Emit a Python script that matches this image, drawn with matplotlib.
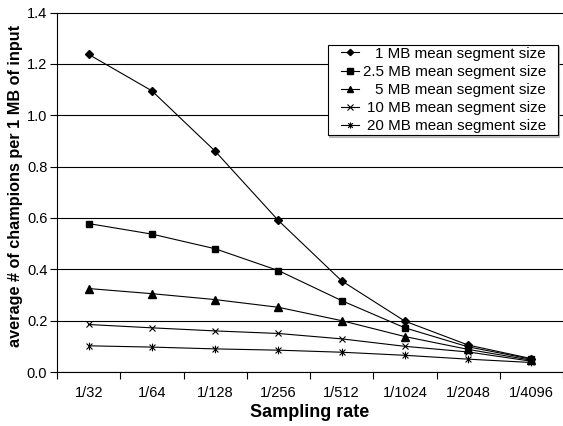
import numpy as np
import matplotlib
matplotlib.use("Agg")
import matplotlib.pyplot as plt
import matplotlib.transforms as mtransforms
from matplotlib.path import Path
from matplotlib.lines import Line2D
from matplotlib.legend_handler import HandlerLine2D

plt.rcParams['font.family'] = ['Liberation Sans', 'DejaVu Sans']

# data
rates = ['1/32', '1/64', '1/128', '1/256', '1/512', '1/1024', '1/2048', '1/4096']
seg_1mb = [1.237, 1.095, 0.860, 0.590, 0.355, 0.198, 0.105, 0.052]
seg_2_5mb = [0.578, 0.537, 0.480, 0.395, 0.278, 0.172, 0.098, 0.050]
seg_5mb = [0.325, 0.305, 0.282, 0.252, 0.200, 0.138, 0.088, 0.046]
seg_10mb = [0.185, 0.172, 0.160, 0.150, 0.129, 0.100, 0.078, 0.042]
seg_20mb = [0.102, 0.097, 0.090, 0.085, 0.077, 0.065, 0.050, 0.037]
labels = ['1 MB mean segment size', '2.5 MB mean segment size',
          '5 MB mean segment size', '10 MB mean segment size',
          '20 MB mean segment size']

# excel-like star: an x with a vertical bar
star = Path([(-1, -1), (1, 1), (-1, 1), (1, -1), (0, -1.3), (0, 1.3)],
            [Path.MOVETO, Path.LINETO, Path.MOVETO, Path.LINETO, Path.MOVETO, Path.LINETO])

PX = 0.72  # points per pixel at dpi 100


class PadHandler(HandlerLine2D):
    # leaves some blank room in front of the legend sample line
    def __init__(self, pad, **kw):
        super().__init__(**kw)
        self.pad = pad

    def create_artists(self, legend, orig_handle, xdescent, ydescent, width, height, fontsize, trans):
        return super().create_artists(legend, orig_handle, xdescent - self.pad, ydescent,
                                      width - self.pad, height, fontsize, trans)


fig = plt.figure(figsize=(5.63, 4.26), dpi=100)
ax = fig.add_axes([57 / 563, 54 / 426, 1 - 57 / 563, (372 - 12.5) / 426])

x = np.arange(len(rates))
series = [seg_1mb, seg_2_5mb, seg_5mb, seg_10mb, seg_20mb]
styles = [dict(marker='D', ms=4),
          dict(marker='s', ms=5),
          dict(marker='^', ms=5.5),
          dict(marker='x', ms=5, mew=0.8),
          dict(marker=star, ms=5.5, mew=0.8)]
for vals, lab, st in zip(series, labels, styles):
    ax.plot(x, vals, color='black', lw=0.8, label=lab, mfc='black', mec='black', **st)

ax.set_ylim(0, 1.4)
ax.set_yticks(np.arange(0, 1.41, 0.2))
ax.set_yticklabels(['%.1f' % v for v in np.arange(0, 1.41, 0.2)])
ax.set_xlim(-0.5, -0.5 + (563 - 57) / 63.7)
ax.set_xticks(np.arange(-0.5, 8, 1.0))
ax.set_xticklabels([])
ax.set_xticks(x, minor=True)
ax.set_xticklabels(rates, minor=True)
ax.tick_params(axis='x', which='minor', length=0, pad=10, labelsize=10.5)
ax.tick_params(axis='x', which='major', length=5, width=0.8, direction='out')
ax.tick_params(axis='y', length=5, width=0.8, direction='out', pad=2, labelsize=10.5)

ax.yaxis.grid(True, color='black', lw=0.8)
ax.set_axisbelow(True)
for s in ['top', 'right']:
    ax.spines[s].set_visible(False)
for s in ['left', 'bottom']:
    ax.spines[s].set_linewidth(0.8)

ax.set_xlabel('Sampling rate', fontsize=13, fontweight='bold', labelpad=3)
ax.set_ylabel('average # of champions per 1 MB of input', fontsize=11.7,
              fontweight='bold')
ax.yaxis.set_label_coords(-0.067, 0.517)

fs = 10.9
leg = ax.legend(loc='upper right', bbox_to_anchor=((558 - 57) / 506, (372 - 44.7) / 359.5),
                borderaxespad=0, fontsize=fs, frameon=True, fancybox=False,
                shadow={'ox': 1, 'oy': -1, 'color': '0.55'}, edgecolor='black',
                framealpha=1, handlelength=29 * PX / fs, handletextpad=14 * PX / fs,
                labelspacing=0.277, borderpad=0.132,
                handler_map={Line2D: PadHandler(11 * PX)})
leg.get_frame().set_linewidth(0.8)
for h in leg.legend_handles:
    h.set_markersize(h.get_markersize() * 0.8)

# right-align the labels (numbers line up on "MB" in the original)
fig.canvas.draw()
renderer = fig.canvas.get_renderer()
exts = [t.get_window_extent(renderer) for t in leg.get_texts()]
right = max(e.x1 for e in exts)
for t, e in zip(leg.get_texts(), exts):
    dx = right - e.x1 - 10
    t.set_transform(t.get_transform() + mtransforms.Affine2D().translate(dx, 0))

fig.savefig('out.png', dpi=100)
